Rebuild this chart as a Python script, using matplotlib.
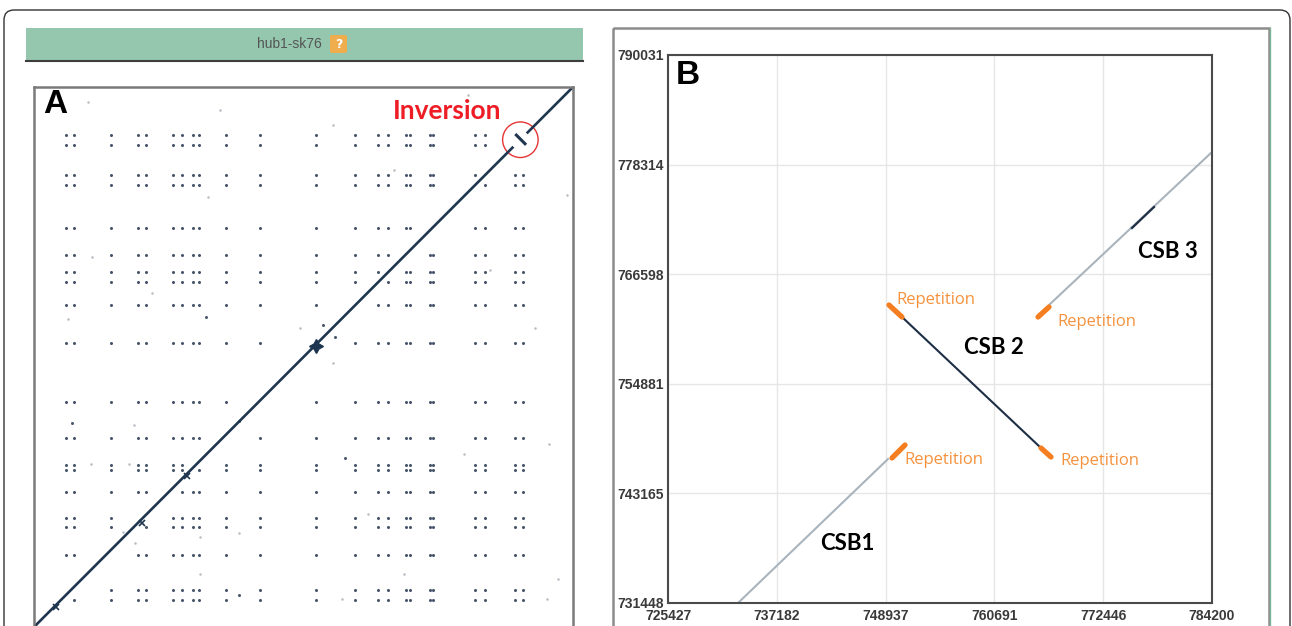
import numpy as np
import matplotlib.pyplot as plt
from matplotlib.patches import Rectangle, FancyBboxPatch, Circle

W, H = 1292, 626

# ---- panel A: dot plot hub1 vs sk76 (kb) ----
rep_x = [50, 63, 121, 164, 176, 219, 233, 250, 260, 302, 357, 444, 507,
         543, 559, 586, 593, 625, 630, 696, 711, 759, 771]
rep_y = [42, 58, 113, 157, 172, 212, 247, 255, 297, 354, 447, 507, 543,
         559, 586, 628, 696, 711, 759, 774]
# diagonal con la inversion
diag_1 = ([0, 756], [0, 756])
inv_seg = ([759, 776], [776, 759])
diag_2 = ([777, 850], [777, 850])
# repeticiones que cruzan la diagonal
star_x, star_y = [444], [442]
small_x = [241, 170, 35]
small_y = [238, 164, 31]
# puntos sueltos
noise_x = [275, 91, 186, 54, 420, 472, 567, 841, 719, 790, 472, 157, 90, 150,
           140, 159, 261, 323, 261, 812, 678, 527, 584, 826, 486, 809, 85, 294, 685]
noise_y = [677, 582, 526, 485, 471, 790, 719, 680, 562, 471, 416, 318, 257, 257,
           150, 132, 142, 148, 83, 288, 272, 178, 83, 76, 44, 44, 826, 814, 837]
dark_x = [271, 456, 475, 60, 324, 490, 323]
dark_y = [488, 475, 456, 321, 50, 266, 325]

# ---- panel B: zoom sobre la region invertida ----
xt = [725427, 737182, 748937, 760691, 772446, 784200]
yt = [731448, 743165, 754881, 766598, 778314, 790031]
csb1 = ([732990, 749196], [731448, 746842])
csb2 = ([750709, 765726], [762021, 748018])
csb3 = ([766590, 784200], [763304, 779660])
csb3_dark = ([775558, 777934], [771536, 773780])
reps = [([749628, 751033], [746949, 748338]),
        ([749304, 750709], [763304, 762021]),
        ([765726, 766806], [748018, 747055]),
        ([765402, 766590], [762021, 763090])]
rep_lab_x = [750924, 750060, 767779, 767455]
rep_lab_y = [746735, 763839, 746628, 761487]
csb_names = ["CSB1", "CSB 2", "CSB 3"]
csb_lab_x = [744766, 760648, 779447]
csb_lab_y = [737862, 758814, 769077]

fig = plt.figure(figsize=(W / 100, H / 100), dpi=100)

# fondo: marcos y cabecera en pixeles
bg = fig.add_axes([0, 0, 1, 1], zorder=0)
bg.set_xlim(0, W)
bg.set_ylim(H, 0)
bg.axis('off')
bg.add_patch(FancyBboxPatch((4, 10), 1286, 640, boxstyle='round,pad=0,rounding_size=10',
                            fill=False, ec='#333333', lw=1.0))
bg.add_patch(Rectangle((26, 28), 557, 33, fc='#95c6ae', ec='none'))
bg.plot([26, 583], [61, 61], color='#3d3d3d', lw=1.5)
bg.text(289, 44, "hub1-sk76", ha='center', va='center', fontsize=10, color='#555555',
        family=['Liberation Sans', 'DejaVu Sans'])
bg.add_patch(FancyBboxPatch((330, 35), 17, 18, boxstyle='round,pad=0,rounding_size=2',
                            fc='#f0ad4e', ec='none'))
bg.text(338.5, 44.5, "?", ha='center', va='center', fontsize=9, color='white', weight='bold')
bg.add_patch(Rectangle((613, 28), 656, 620, fill=False, ec='#8c8c8c', lw=1.8))
bg.plot([1269.5, 1269.5], [28, 626], color='#7fb79a', lw=1)

# panel A
axA = fig.add_axes([34 / W, (H - 627) / H, 539 / W, 540 / H], zorder=1)
axA.set_xlim(0, 850)
axA.set_ylim(0, 850)
axA.set_xticks([])
axA.set_yticks([])
for s in axA.spines.values():
    s.set_color('#7a7a7a')
    s.set_linewidth(1.8)

gx, gy = np.meshgrid(rep_x, rep_y)
gx, gy = gx.ravel(), gy.ravel()
keep = (np.abs(gx - gy) > 10) & ~((gx > 750) & (gy > 750))
axA.plot(gx[keep], gy[keep], 'o', ms=2.2, mec='none', color='#46556a')
axA.plot(noise_x, noise_y, 'o', ms=1.8, mec='none', color='#b5bcc4')
axA.plot(dark_x, dark_y, 'o', ms=2.2, mec='none', color='#4a5a6c')

col_diag = '#1f3650'
axA.plot(*diag_1, color=col_diag, lw=1.9, solid_capstyle='butt')
axA.plot(*inv_seg, color=col_diag, lw=2.2, solid_capstyle='butt')
axA.plot(*diag_2, color=col_diag, lw=1.9, solid_capstyle='butt')
axA.plot(star_x, star_y, marker=(4, 1, 0), ms=10, color=col_diag, ls='none')
axA.plot(small_x, small_y, marker='x', ms=4, mew=1.2, color=col_diag, ls='none')
axA.add_patch(Circle((767, 767), 28, fill=False, ec='#e53535', lw=1.0))
axA.text(652, 813, "Inversion", ha='center', va='center', fontsize=19, weight='bold',
         color='#ee1c25', family=['Lato', 'DejaVu Sans'])
axA.text(0.039, 0.967, "A", transform=axA.transAxes, ha='center', va='center',
         fontsize=24, weight='bold', family=['Liberation Sans', 'DejaVu Sans'])

# panel B
axB = fig.add_axes([668 / W, (H - 603) / H, 544 / W, 548 / H], zorder=1)
axB.set_xlim(xt[0], xt[-1])
axB.set_ylim(yt[0], yt[-1])
axB.set_xticks(xt)
axB.set_yticks(yt)
axB.set_xticklabels([str(v) for v in xt])
axB.set_yticklabels([str(v) for v in yt])
axB.tick_params(length=0, labelsize=10, labelcolor='#3a3a3a')
axB.tick_params(axis='x', pad=4)
axB.tick_params(axis='y', pad=3)
for lab in axB.get_xticklabels() + axB.get_yticklabels():
    lab.set_fontweight('bold')
    lab.set_family(['Liberation Sans Narrow', 'Liberation Sans', 'DejaVu Sans'])
axB.grid(True, color='#e6e6e6', lw=1)
for s in axB.spines.values():
    s.set_color('#4a4a4a')
    s.set_linewidth(1.5)

gris = '#a9b4bd'
axB.plot(*csb1, color=gris, lw=1.5)
axB.plot(*csb3, color=gris, lw=1.5)
axB.plot(*csb3_dark, color='#1d2e45', lw=1.6)
axB.plot(*csb2, color='#1d2e45', lw=1.5)
for rx, ry in reps:
    axB.plot(rx, ry, color='#f57f20', lw=3.8, solid_capstyle='round')
for x, y in zip(rep_lab_x, rep_lab_y):
    axB.text(x, y, "Repetition", ha='left', va='center', fontsize=12, color='#f5923e',
             family=['Open Sans', 'DejaVu Sans'])
for name, x, y in zip(csb_names, csb_lab_x, csb_lab_y):
    axB.text(x, y, name, ha='center', va='center', fontsize=16, weight='bold',
             color='black', family=['Lato', 'DejaVu Sans'])
axB.text(0.037, 0.963, "B", transform=axB.transAxes, ha='center', va='center',
         fontsize=24, weight='bold', family=['Liberation Sans', 'DejaVu Sans'])

fig.savefig('out.png', dpi=100)
